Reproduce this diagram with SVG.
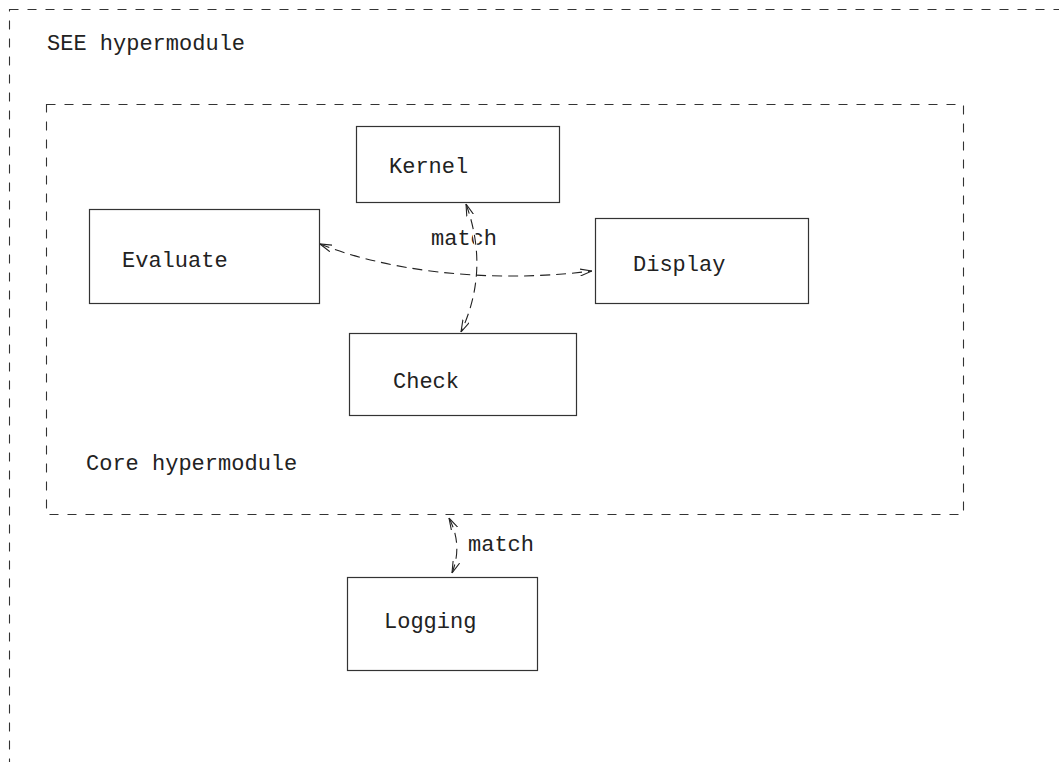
<svg xmlns="http://www.w3.org/2000/svg" width="1059" height="762" viewBox="0 0 1059 762">
<style>
.bg{fill:#fff}
.box{fill:none;stroke:#333;stroke-width:1.2}
.group{fill:none;stroke:#333;stroke-width:1.1;stroke-dasharray:9 9}
.t{font-family:"Liberation Mono","Courier New",monospace;font-size:22px;fill:#222}
.conn{fill:none;stroke:#222;stroke-width:1.1;stroke-dasharray:10 6;marker-start:url(#arr);marker-end:url(#arr)}
.halo{fill:none;stroke:#fff;stroke-width:3}
</style>
<defs>
<marker id="arr" viewBox="0 0 12 8" refX="12" refY="4" markerWidth="12" markerHeight="8" markerUnits="userSpaceOnUse" orient="auto-start-reverse">
<path d="M0,0.5 L12,4 L0,7.5" fill="none" stroke="#222" stroke-width="1.1"/>
</marker>
</defs>
<rect class="bg" x="0" y="0" width="1059" height="762"/>
<g id="see-hypermodule">
<rect class="group" x="9.5" y="9.5" width="1100" height="800"/>
<text class="t" x="47" y="50">SEE hypermodule</text>
</g>
<g id="core-hypermodule">
<rect class="group" x="46.5" y="104.5" width="917" height="410"/>
<text class="t" x="86" y="470">Core hypermodule</text>
</g>
<g id="kernel">
<rect class="box" x="356.5" y="126.5" width="203" height="76"/>
<text class="t" x="389" y="173">Kernel</text>
</g>
<g id="evaluate">
<rect class="box" x="89.5" y="209.5" width="230" height="94"/>
<text class="t" x="122" y="267">Evaluate</text>
</g>
<g id="display">
<rect class="box" x="595.5" y="218.5" width="213" height="85"/>
<text class="t" x="633" y="271">Display</text>
</g>
<g id="check">
<rect class="box" x="349.5" y="333.5" width="227" height="82"/>
<text class="t" x="393" y="388">Check</text>
</g>
<g id="logging">
<rect class="box" x="347.5" y="577.5" width="190" height="93"/>
<text class="t" x="384" y="628">Logging</text>
</g>
<g id="connectors">
<text class="t" x="431" y="245">match</text>
<path class="halo" d="M466,204 Q490,270 461,332"/>
<path class="conn" d="M466,204 Q490,270 461,332"/>
<path class="conn" d="M320,244 C380,268 480,285 592,271"/>
<path class="conn" d="M449,518 Q463,545 452,573"/>
<text class="t" x="468" y="551">match</text>
</g>
</svg>
